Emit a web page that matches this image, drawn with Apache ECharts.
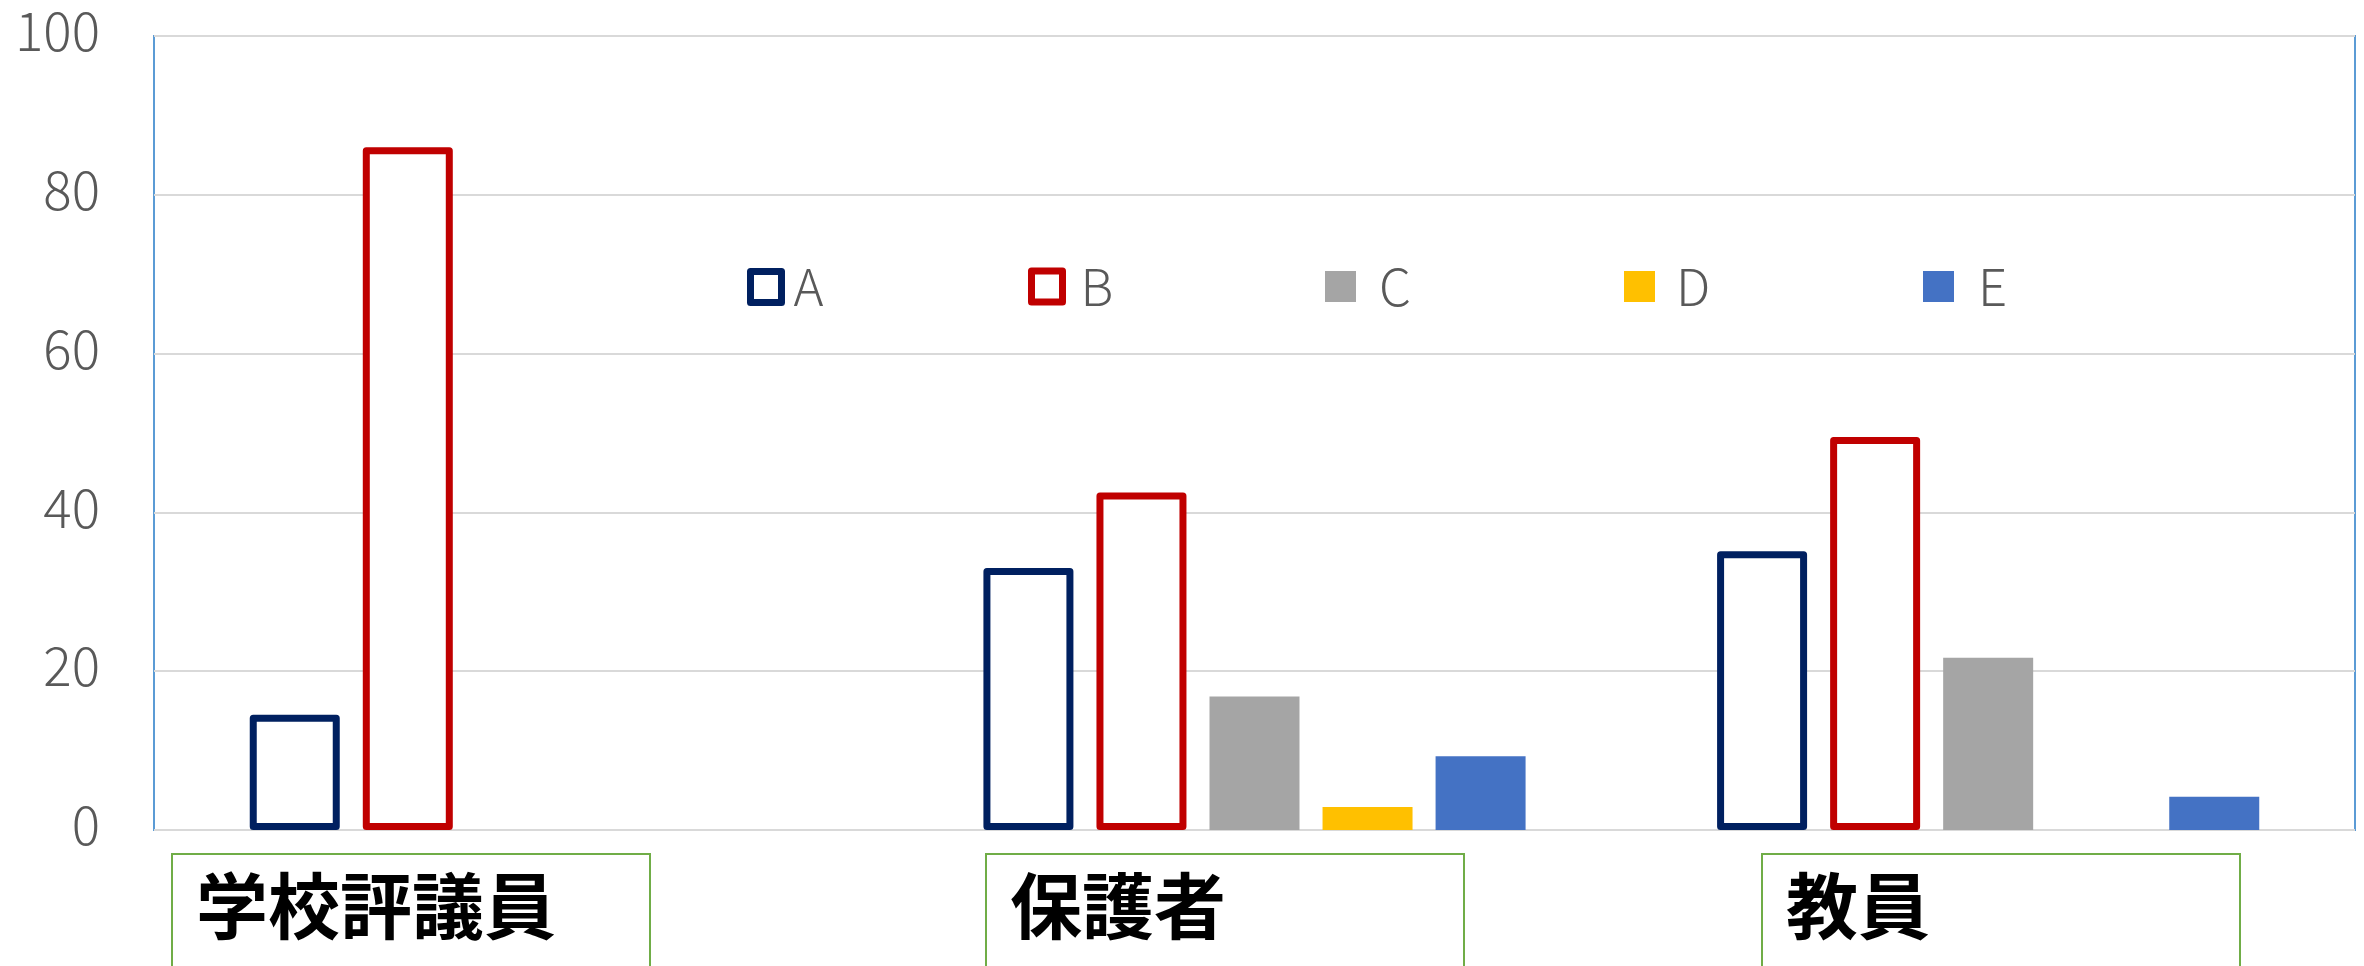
<!DOCTYPE html>
<html>
<head>
<meta charset="utf-8">
<script src="https://cdn.jsdelivr.net/npm/echarts@6/dist/echarts.min.js"></script>
<style>
  html, body { margin: 0; padding: 0; background: #fff; }
  #main { width: 2364px; height: 966px; }
</style>
</head>
<body>
<div id="main"></div>
<script>
// categories and series values (percent)
const categories = ['学校評議員', '保護者', '教員']
const seriesNames = ['A', 'B', 'C', 'D', 'E']
const valuesA = [14.5, 33.0, 35.1]
const valuesB = [86.0, 42.5, 49.5]
const valuesC = [null, 16.8, 21.7]
const valuesD = [null, 2.9, null]
const valuesE = [null, 9.3, 4.2]
const yTicks = [0, 20, 40, 60, 80, 100]

const colors = {
  A: '#002060',
  B: '#C00000',
  C: '#A5A5A5',
  D: '#FFC000',
  E: '#4472C4',
}

// legend item positions (Excel placed them by hand)
const legendLefts = [747, 1028, 1325, 1624, 1923]
const legendTops = [255, 256, 256, 256, 256]
// text padding [top, right, bottom, left] per legend item
const legendTextPads = [
  [0, 0, 12, 7],
  [9, 0, 0, 13],
  [9, 0, 0, 18],
  [9, 0, 0, 16],
  [9, 0, 0, 19],
]

// label box left edges (textboxes placed under the axis)
const boxLefts = [171, 985, 1761]

const chart = echarts.init(document.getElementById('main'))

const outlined = (color) => ({
  color: '#ffffff',
  borderColor: color,
  borderWidth: 7,
  borderJoin: 'round',
})

const barCommon = { type: 'bar', barWidth: 90, barGap: '25.6%' }

const legends = seriesNames.map((name, i) => ({
  data: [{
    name,
    itemStyle: (name === 'A' || name === 'B')
      ? { color: '#ffffff', borderColor: colors[name], borderWidth: 7, borderJoin: 'round' }
      : { color: colors[name], borderWidth: 0 },
  }],
  left: legendLefts[i],
  top: legendTops[i],
  padding: 0,
  icon: 'rect',
  itemWidth: 31,
  itemHeight: 31,
  textStyle: {
    color: '#595959',
    fontSize: 51,
    fontFamily: 'Noto Sans CJK JP',
    fontWeight: 300,
    lineHeight: 52,
    padding: legendTextPads[i],
  },
}))

const option = {
  animation: false,
  backgroundColor: '#ffffff',
  grid: {
    left: 154,
    top: 36,
    right: 9,
    bottom: 136,
    show: true,
    borderColor: '#5B9BD5',
    borderWidth: 2,
  },
  legend: legends,
  xAxis: {
    type: 'category',
    data: categories,
    axisLine: { show: false },
    axisTick: { show: false },
    axisLabel: { show: false },
  },
  yAxis: {
    type: 'value',
    min: yTicks[0],
    max: yTicks[yTicks.length - 1],
    interval: 20,
    axisLine: { show: false },
    axisTick: { show: false },
    splitLine: { lineStyle: { color: '#D9D9D9', width: 2 } },
    axisLabel: {
      margin: 54,
      formatter: '{v|{value}}',
      rich: {
        v: {
          color: '#595959',
          fontSize: 53,
          fontFamily: 'Noto Sans CJK JP',
          fontWeight: 300,
          padding: [0, 0, 10, 0],
        },
      },
    },
  },
  series: [
    { ...barCommon, name: 'A', data: valuesA, itemStyle: outlined(colors.A) },
    { ...barCommon, name: 'B', data: valuesB, itemStyle: outlined(colors.B) },
    { ...barCommon, name: 'C', data: valuesC, itemStyle: { color: colors.C } },
    { ...barCommon, name: 'D', data: valuesD, itemStyle: { color: colors.D } },
    { ...barCommon, name: 'E', data: valuesE, itemStyle: { color: colors.E } },
  ],
  graphic: categories.map((name, i) => ({
    type: 'group',
    left: boxLefts[i],
    top: 853,
    children: [
      {
        type: 'rect',
        shape: { x: 0, y: 0, width: 478, height: 130 },
        style: { fill: '#ffffff', stroke: '#70AD47', lineWidth: 2 },
      },
      {
        type: 'text',
        x: 24,
        y: 52,
        style: {
          text: name,
          fill: '#000000',
          fontSize: 72,
          fontWeight: 'bold',
          fontFamily: 'Noto Sans CJK JP',
          verticalAlign: 'middle',
        },
      },
    ],
  })),
}

option && chart.setOption(option)
</script>
</body>
</html>
